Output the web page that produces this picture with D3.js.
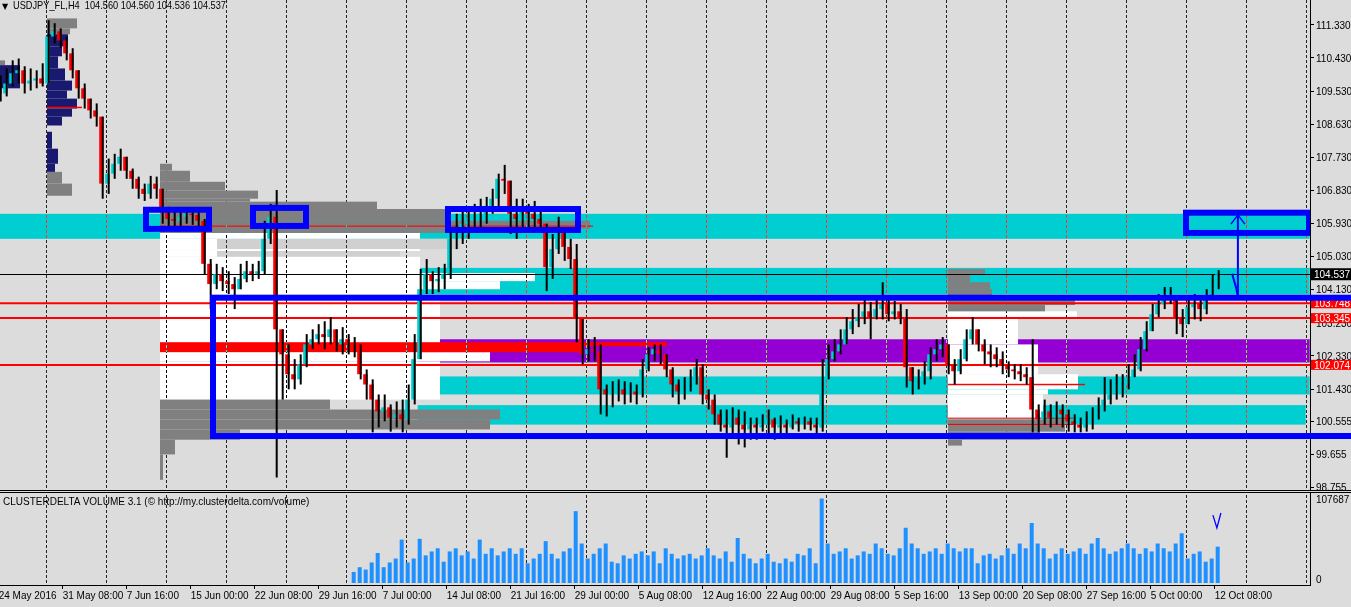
<!DOCTYPE html>
<html>
<head>
<meta charset="utf-8">
<script src="https://cdn.jsdelivr.net/npm/d3@7"></script>
<style>
body { margin: 0; background: #dcdcdc; }
svg { display: block; font-family: "Liberation Sans", Arial, sans-serif; }
</style>
</head>
<body>
<svg id="chart" width="1351" height="607"></svg>
<script>
// ---- data: 12h candles (close / high / low), open = previous close ----
var firstOpen = 109.60;
var closes = [
 109.45,109.72,110.00,110.08,109.72,109.80,109.86,109.72,111.00,111.14,
 110.89,110.54,110.08,109.59,109.31,108.99,108.82,107.00,107.27,107.54,
 107.73,107.35,107.13,106.86,106.72,107.00,106.86,106.31,106.04,105.99,
 106.10,106.18,106.15,105.99,104.82,104.27,104.54,104.35,104.27,104.13,
 104.41,104.62,104.54,104.62,105.50,106.10,103.04,102.36,101.82,101.68,
 102.09,102.63,102.77,102.91,102.83,103.04,102.63,102.77,102.63,102.50,
 101.82,101.54,101.13,100.81,100.92,100.64,100.73,100.59,101.13,102.23,
 104.13,104.54,104.35,104.41,104.54,105.50,105.72,105.91,105.99,106.10,
 106.18,106.26,106.59,107.13,107.08,106.18,106.04,106.26,106.18,106.04,
 105.91,104.73,105.22,105.72,105.28,104.95,103.32,102.36,102.50,102.44,
 101.41,101.27,101.35,101.41,101.27,101.35,101.27,101.95,102.36,102.50,
 102.36,101.95,101.54,101.35,101.46,101.68,102.01,101.27,101.13,100.73,
 100.45,100.37,100.64,100.45,100.32,100.45,100.37,100.45,100.59,100.37,
 100.45,100.37,100.54,100.48,100.54,100.45,100.37,101.68,102.23,102.44,
 102.63,103.04,103.26,103.37,103.53,103.37,103.59,103.73,103.45,103.53,
 103.37,102.01,101.63,101.74,101.90,102.36,102.50,102.63,102.09,101.90,
 102.23,102.77,103.04,102.63,102.44,102.36,102.23,102.09,101.95,101.90,
 101.82,101.74,100.86,100.59,100.81,100.64,100.86,100.73,100.54,100.45,
 100.37,100.54,100.64,100.86,101.13,101.27,101.46,101.54,101.74,101.95,
 102.50,102.99,103.45,103.73,103.86,103.92,103.37,103.18,103.64,103.73,
 103.59,103.86,104.27,104.537
];
var highs = [
 109.94,110.13,110.35,110.40,110.19,110.13,110.08,110.27,111.44,111.36,
 111.22,111.00,110.68,109.91,109.72,109.31,109.18,108.77,107.68,107.81,
 107.95,107.68,107.41,107.19,107.00,107.21,107.19,106.64,106.37,106.26,
 106.31,106.31,106.31,106.26,106.04,104.95,104.82,104.73,104.62,104.46,
 104.82,104.90,104.82,104.90,105.99,106.45,106.83,103.04,102.63,102.23,
 102.36,102.91,103.04,103.18,103.26,103.37,103.04,103.10,102.91,102.83,
 102.63,101.95,101.68,101.27,101.27,101.00,101.08,101.13,101.54,102.91,
 104.68,104.95,104.62,104.73,104.82,105.77,106.18,106.26,106.23,106.45,
 106.59,106.64,106.86,107.27,107.51,107.00,106.59,106.59,106.45,106.53,
 106.31,105.91,105.63,106.10,105.63,105.50,105.36,102.91,102.77,102.83,
 102.63,101.54,101.63,101.68,101.63,101.60,101.54,102.23,102.55,102.63,
 102.63,102.36,102.01,101.68,101.74,101.95,102.23,102.09,101.41,101.27,
 100.86,100.86,100.92,100.86,100.81,100.64,100.64,100.73,100.86,100.64,
 100.70,100.59,100.73,100.64,100.67,100.64,100.64,102.23,102.63,102.77,
 103.04,103.37,103.59,103.73,103.86,103.78,103.86,104.32,103.86,103.81,
 103.73,103.59,101.95,101.95,102.17,102.55,102.77,102.83,102.55,102.23,
 102.50,103.04,103.37,103.04,102.77,102.63,102.55,102.44,102.17,102.09,
 102.09,102.01,102.77,101.00,101.13,101.00,101.08,101.00,100.86,100.73,
 100.64,100.81,100.92,101.19,101.74,101.68,101.82,101.82,102.09,102.36,
 102.83,103.26,103.73,104.00,104.19,104.19,103.86,103.59,103.92,104.00,
 103.92,104.13,104.54,104.65
];
var lows = [
 109.23,109.37,109.64,109.72,109.45,109.53,109.59,109.64,109.80,110.81,
 110.68,110.35,109.86,109.31,109.04,108.77,108.55,106.59,106.72,107.13,
 107.35,107.13,106.86,106.59,106.53,106.59,106.59,105.91,105.77,105.77,
 105.82,105.91,105.88,105.77,104.54,103.59,104.13,104.08,104.00,103.59,
 104.13,104.32,104.35,104.41,104.54,105.36,99.01,101.13,101.41,101.41,
 101.54,102.01,102.50,102.63,102.50,102.63,102.44,102.36,102.36,102.28,
 101.68,101.13,100.24,100.37,100.54,100.26,100.37,100.24,100.45,101.00,
 102.77,104.00,104.00,104.05,104.13,104.41,105.22,105.36,105.50,105.72,
 105.82,105.91,106.18,106.31,106.72,105.63,105.50,105.82,105.77,105.82,
 105.72,104.08,104.41,105.09,104.90,104.68,102.69,102.09,102.17,102.17,
 100.73,100.67,100.92,101.08,101.00,101.05,101.00,101.19,101.90,102.17,
 102.09,101.74,101.19,101.00,101.13,101.35,101.54,101.00,100.86,100.45,
 100.26,99.55,100.18,99.91,99.83,100.04,100.04,100.26,100.10,100.04,
 100.10,100.15,100.32,100.26,100.32,100.29,100.18,100.26,101.82,102.17,
 102.36,102.63,102.91,103.10,103.18,102.77,103.31,103.31,103.26,103.31,
 103.18,101.46,101.27,101.41,101.54,101.68,102.17,102.28,101.82,101.54,
 101.82,102.17,102.63,102.44,102.09,102.01,102.01,101.82,101.74,101.68,
 101.63,101.54,100.24,100.24,100.45,100.37,100.45,100.37,100.26,100.24,
 100.24,100.26,100.32,100.59,100.81,101.00,101.13,101.19,101.41,101.74,
 101.90,102.44,102.99,103.37,103.59,103.73,102.91,102.83,103.37,103.31,
 103.26,103.45,103.86,104.13
];

// cluster volume per 12h candle, starting at candle 59
var volStart = 59;
var volumes = [
 14000,20000,17000,26000,38000,20000,26000,31000,55000,26000,
 31000,56000,35000,40000,44000,27000,40000,44000,35000,40000,
 31000,55000,37000,44000,35000,40000,44000,37000,44000,25000,
 31000,37000,53000,37000,31000,40000,44000,91000,50000,31000,
 37000,44000,50000,27000,25000,35000,31000,37000,40000,35000,
 40000,25000,44000,37000,31000,35000,37000,31000,35000,44000,
 35000,31000,40000,27000,57000,37000,31000,25000,31000,37000,
 27000,25000,31000,27000,37000,35000,44000,25000,107000,50000,
 37000,40000,44000,31000,35000,40000,37000,50000,44000,37000,
 35000,44000,70000,50000,44000,37000,40000,44000,37000,50000,
 44000,40000,44000,44000,25000,35000,37000,31000,35000,44000,
 37000,50000,44000,76000,50000,44000,31000,37000,44000,37000,
 40000,44000,37000,50000,57000,44000,37000,40000,44000,50000,
 44000,37000,44000,40000,50000,44000,40000,50000,63000,31000,
 37000,40000,27000,31000,46000
];

// axis labels (one every 32 H4 bars)
var timeLabels = ["24 May 2016","31 May 08:00","7 Jun 16:00","15 Jun 00:00","22 Jun 08:00",
 "29 Jun 16:00","7 Jul 00:00","14 Jul 08:00","21 Jul 16:00","29 Jul 00:00","5 Aug 08:00",
 "12 Aug 16:00","22 Aug 00:00","29 Aug 08:00","5 Sep 16:00","13 Sep 00:00","20 Sep 08:00",
 "27 Sep 16:00","5 Oct 00:00","12 Oct 08:00"];
var priceTicks = [111.330,110.430,109.530,108.630,107.730,106.830,105.930,105.030,104.130,
 103.230,102.330,101.430,100.555,99.655,98.755];
var volMax = 107687;

// levels
var lastPrice = 104.537;
var redLevels = [103.748, 103.345, 102.074];

// zones [fromBar, toBar, priceHigh, priceLow]
var cyanZones = [[-4,656,106.18,105.50],[210,656,104.71,103.99],[210,656,101.76,101.27],[210,654,100.98,100.45]];
var purpleZones = [[210,656,102.77,102.14]];
var blueBoxes = [[74.15,105.65,106.29,105.77],[127.65,154.15,106.34,105.85],[225.15,290.15,106.31,105.74],[594.15,655.65,106.21,105.66]];
var rangeBox = [107.65,720,103.90,100.14];

// volume profiles: rows [priceHigh, priceLow, volume]
var prof0 = { anchor: 1.15,
  gray: [[110.35,110.22,10]],
  navy: [[110.22,109.59,40]] };
var profA = { anchor: 24.65,
  gray: [[111.49,111.22,60],[111.22,111.06,46],[107.32,107.00,30],[107.00,106.67,50]],
  navy: [[111.06,110.73,42],[110.73,110.46,30],[110.46,110.13,22],[110.13,109.80,36],[109.80,109.53,50],
         [109.53,109.31,40],[109.31,109.04,60],[109.04,108.82,50],[108.82,108.58,30],[108.41,107.95,10],
         [107.95,107.54,22],[107.54,107.32,16]],
  poc: [[109.09,109.05,70]] };
var profB = { anchor: 81.15,
  purple: [[102.33,102.17,840]],
  white: [[105.66,105.50,520],[105.50,105.22,114],[105.22,105.17,520],[105.17,105.01,114],[105.01,103.86,520],
          [104.57,104.35,750],[104.35,104.13,680],[103.86,102.63,560],[102.42,102.17,660],[102.17,101.13,560]],
  light: [[105.50,105.22,600],[105.17,105.01,480]],
  gray: [[107.54,107.35,24],[107.35,107.05,60],[107.05,106.81,130],[106.81,106.59,196],[106.59,106.51,180],
         [106.51,106.31,434],[106.31,105.99,570],[105.99,105.77,860],[105.77,105.66,570],
         [101.13,100.86,340],[100.86,100.59,680],[100.59,100.32,660],[100.32,100.04,160],[100.04,99.64,30],[99.64,98.95,6]],
  poc: [[102.63,102.42,846],[102.69,102.58,1014]],
  line: [[105.86,105.83,866]] };
var profC = { anchor: 475.15,
  white: [[103.53,103.37,258],[103.37,102.63,140],[102.63,101.82,180],[101.82,101.41,260],[101.41,101.27,200],[101.27,100.59,190]],
  gray: [[104.68,104.52,74],[104.52,104.32,44],[104.32,104.13,84],[104.13,103.94,88],[103.86,103.70,254],[103.70,103.53,194],
         [100.59,100.26,234],[100.26,100.04,184],[100.04,99.88,28]],
  line: [[101.56,101.52,274],[100.64,100.61,250],[100.47,100.44,250]] };

// ---- scales ----
var x = d3.scaleLinear().domain([0, 612]).range([-2.3, 1221.7]);   // H4 bar index
var y = d3.scaleLinear().domain([98.755, 111.33]).range([487, 24.3]);
var yv = d3.scaleLinear().domain([0, volMax]).range([583, 498]);
var pw = d3.scaleLinear().domain([0, 1000]).range([0, 500]);

var plotRight = 1310, mainBottom = 490, volTop = 493, volBottom = 585;

var svg = d3.select("#chart");
svg.append("rect").attr("width", 1351).attr("height", 607).attr("fill", "#dcdcdc");

var main = svg.append("g");

// zones
function zone(list, color) {
  main.selectAll(null).data(list).enter().append("rect")
    .attr("x", d => x(d[0])).attr("width", d => x(d[1]) - x(d[0]))
    .attr("y", d => y(d[2])).attr("height", d => y(d[3]) - y(d[2]))
    .attr("fill", color);
}
zone(cyanZones, "#00ced1");
zone(purpleZones, "#9400d3");

// volume profiles
function rows(p, key, color) {
  if (!p[key]) return;
  main.selectAll(null).data(p[key]).enter().append("rect")
    .attr("x", x(p.anchor))
    .attr("y", d => y(d[0]))
    .attr("width", d => pw(d[2]))
    .attr("height", d => Math.max(1, y(d[1]) - y(d[0])))
    .attr("fill", color);
}
[prof0, profA, profB, profC].forEach(function(p) {
  rows(p, "purple", "#9400d3");
  rows(p, "light", "#d0d0d0");
  rows(p, "white", "#ffffff");
  rows(p, "gray", "#808080");
  rows(p, "navy", "#191970");
  rows(p, "poc", "#ff0000");
  rows(p, "line", "#ff0000");
});

// grid (xor-like, as the terminal draws it)
var gridBars = d3.range(24.3, 660, 30);
svg.append("g").selectAll("line").data(gridBars).enter().append("line")
  .attr("x1", d => Math.round(x(d)) + 0.5).attr("x2", d => Math.round(x(d)) + 0.5)
  .attr("y1", 0).attr("y2", volBottom)
  .attr("stroke", "#ffffff").attr("stroke-dasharray", "3,2")
  .style("mix-blend-mode", "difference");

// levels
svg.append("g").selectAll("line").data(redLevels).enter().append("line")
  .attr("x1", 0).attr("x2", plotRight)
  .attr("y1", d => y(d)).attr("y2", d => y(d))
  .attr("stroke", "#ff0000").attr("stroke-width", 2);
svg.append("line").attr("x1", 0).attr("x2", plotRight)
  .attr("y1", Math.round(y(lastPrice)) + 0.5).attr("y2", Math.round(y(lastPrice)) + 0.5)
  .attr("stroke", "#000");

// candles
var candles = closes.map(function(c, i) {
  var o = i === 0 ? firstOpen : closes[i - 1];
  return { bar: 3 * i + 1, o: o, c: c,
           h: Math.max(highs[i], o, c), l: Math.min(lows[i], o, c) };
});
var cg = svg.append("g");
cg.selectAll("rect.body").data(candles).enter().append("rect")
  .attr("x", d => x(d.bar) - 2.5).attr("width", 4.5)
  .attr("y", d => y(Math.max(d.o, d.c)))
  .attr("height", d => Math.max(1, Math.abs(y(d.o) - y(d.c))))
  .attr("fill", d => d.c >= d.o ? "#00ced1" : "#ff0000");
cg.selectAll("line.wick").data(candles).enter().append("line")
  .attr("x1", d => x(d.bar) + 1).attr("x2", d => x(d.bar) + 1)
  .attr("y1", d => y(d.h)).attr("y2", d => y(d.l))
  .attr("stroke", "#000").attr("stroke-width", 2);

// blue boxes
svg.append("g").selectAll("rect").data(blueBoxes.concat([rangeBox])).enter().append("rect")
  .attr("x", d => x(d[0])).attr("width", d => x(d[1]) - x(d[0]))
  .attr("y", d => y(d[2])).attr("height", d => y(d[3]) - y(d[2]))
  .attr("fill", "none").attr("stroke", "#0000ff").attr("stroke-width", 6);

// target arrow
var arrow = [[617.2,104.55],[619.3,104.15],[620.1,103.92],[620.1,106.13]];
svg.append("path")
  .attr("d", d3.line().x(d => x(d[0])).y(d => y(d[1]))(arrow))
  .attr("fill", "none").attr("stroke", "#0000ff").attr("stroke-width", 2);
svg.append("path")
  .attr("d", d3.line().x(d => x(d[0])).y(d => y(d[1]))([[616.6,105.90],[620.1,106.15],[623.6,105.90]]))
  .attr("fill", "none").attr("stroke", "#0000ff").attr("stroke-width", 1.5);

// ---- right price axis ----
var ax = svg.append("g").attr("font-size", 10).attr("fill", "#000");
ax.append("rect").attr("x", plotRight).attr("y", 0).attr("width", 41).attr("height", mainBottom).attr("fill", "#dcdcdc");
ax.append("line").attr("x1", plotRight + 0.5).attr("x2", plotRight + 0.5).attr("y1", 0).attr("y2", mainBottom).attr("stroke", "#000");
ax.selectAll("line.t").data(priceTicks).enter().append("line")
  .attr("x1", plotRight).attr("x2", plotRight + 4)
  .attr("y1", d => Math.round(y(d)) + 0.5).attr("y2", d => Math.round(y(d)) + 0.5)
  .attr("stroke", "#000");
ax.selectAll("text.t").data(priceTicks).enter().append("text")
  .attr("x", plotRight + 6).attr("y", d => y(d) + 4.2)
  .text(d => d.toFixed(3));

// level tags (drawn over the tick labels, as in the terminal)
ax.selectAll("rect.tag").data(redLevels).enter().append("rect")
  .attr("x", plotRight + 1).attr("y", d => y(d) - 5).attr("width", 40).attr("height", 10)
  .attr("fill", "#ff0000");
ax.selectAll("text.tag").data(redLevels).enter().append("text")
  .attr("x", plotRight + 4).attr("y", d => y(d) + 3.8).attr("fill", "#fff")
  .text(d => d.toFixed(3));
ax.append("rect").attr("x", plotRight + 1).attr("y", y(lastPrice) - 6).attr("width", 40).attr("height", 12).attr("fill", "#000");
ax.append("text").attr("x", plotRight + 4).attr("y", y(lastPrice) + 4).attr("fill", "#fff").text(lastPrice.toFixed(3));

// blue range box continues over the axis
svg.append("g").selectAll("line").data([rangeBox[2], rangeBox[3]]).enter().append("line")
  .attr("x1", plotRight).attr("x2", 1351)
  .attr("y1", d => y(d)).attr("y2", d => y(d))
  .attr("stroke", "#0000ff").attr("stroke-width", 6);

// ---- header ----
svg.append("text").attr("x", 2).attr("y", 9).attr("font-size", 8)
  .attr("font-family", "DejaVu Sans").text("▼");
svg.append("text").attr("x", 13).attr("y", 9).attr("font-size", 10.5)
  .attr("xml:space", "preserve")
  .attr("textLength", 213).attr("lengthAdjust", "spacingAndGlyphs")
  .text("USDJPY_FL,H4  104.560 104.560 104.536 104.537");

// ---- volume panel ----
svg.append("rect").attr("x", 0).attr("y", mainBottom).attr("width", 1351).attr("height", 3).attr("fill", "#dcdcdc");
svg.append("line").attr("x1", 0).attr("x2", 1351).attr("y1", mainBottom + 0.5).attr("y2", mainBottom + 0.5).attr("stroke", "#000");
svg.append("line").attr("x1", 0).attr("x2", 1351).attr("y1", volTop - 0.5).attr("y2", volTop - 0.5).attr("stroke", "#000");

var vg = svg.append("g");
vg.selectAll("rect").data(volumes).enter().append("rect")
  .attr("x", (d, i) => x(3 * (volStart + i) + 1) - 2)
  .attr("width", 4)
  .attr("y", d => yv(d))
  .attr("height", d => yv(0) - yv(d))
  .attr("fill", "#1e90ff");

svg.append("text").attr("x", 3).attr("y", 505).attr("font-size", 10)
  .text("CLUSTERDELTA VOLUME 3.1 (\u00a9 http://my.clusterdelta.com/volume)");

// volume axis
svg.append("line").attr("x1", plotRight + 0.5).attr("x2", plotRight + 0.5).attr("y1", volTop).attr("y2", volBottom).attr("stroke", "#000");
svg.append("text").attr("x", plotRight + 6).attr("y", yv(volMax) + 5).attr("font-size", 10).text(volMax);
svg.append("text").attr("x", plotRight + 6).attr("y", yv(0)).attr("font-size", 10).text("0");

// hand mark in volume panel
svg.append("path")
  .attr("d", d3.line().x(d => x(d[0])).y(d => yv(d[1]))([[607.6,86000],[609.6,69700],[611.6,88700]]))
  .attr("fill", "none").attr("stroke", "#0000ff").attr("stroke-width", 1.3);

// ---- time axis ----
svg.append("line").attr("x1", 0).attr("x2", plotRight + 1).attr("y1", volBottom + 0.5).attr("y2", volBottom + 0.5).attr("stroke", "#000");
var tg = svg.append("g").attr("font-size", 10);
tg.selectAll("line").data(timeLabels).enter().append("line")
  .attr("x1", (d, i) => Math.round(x(32 * i)) + 0.5).attr("x2", (d, i) => Math.round(x(32 * i)) + 0.5)
  .attr("y1", volBottom).attr("y2", volBottom + 4).attr("stroke", "#000");
tg.selectAll("text").data(timeLabels).enter().append("text")
  .attr("x", (d, i) => x(32 * i) + 1).attr("y", 599)
  .text(d => d);
</script>
</body>
</html>
